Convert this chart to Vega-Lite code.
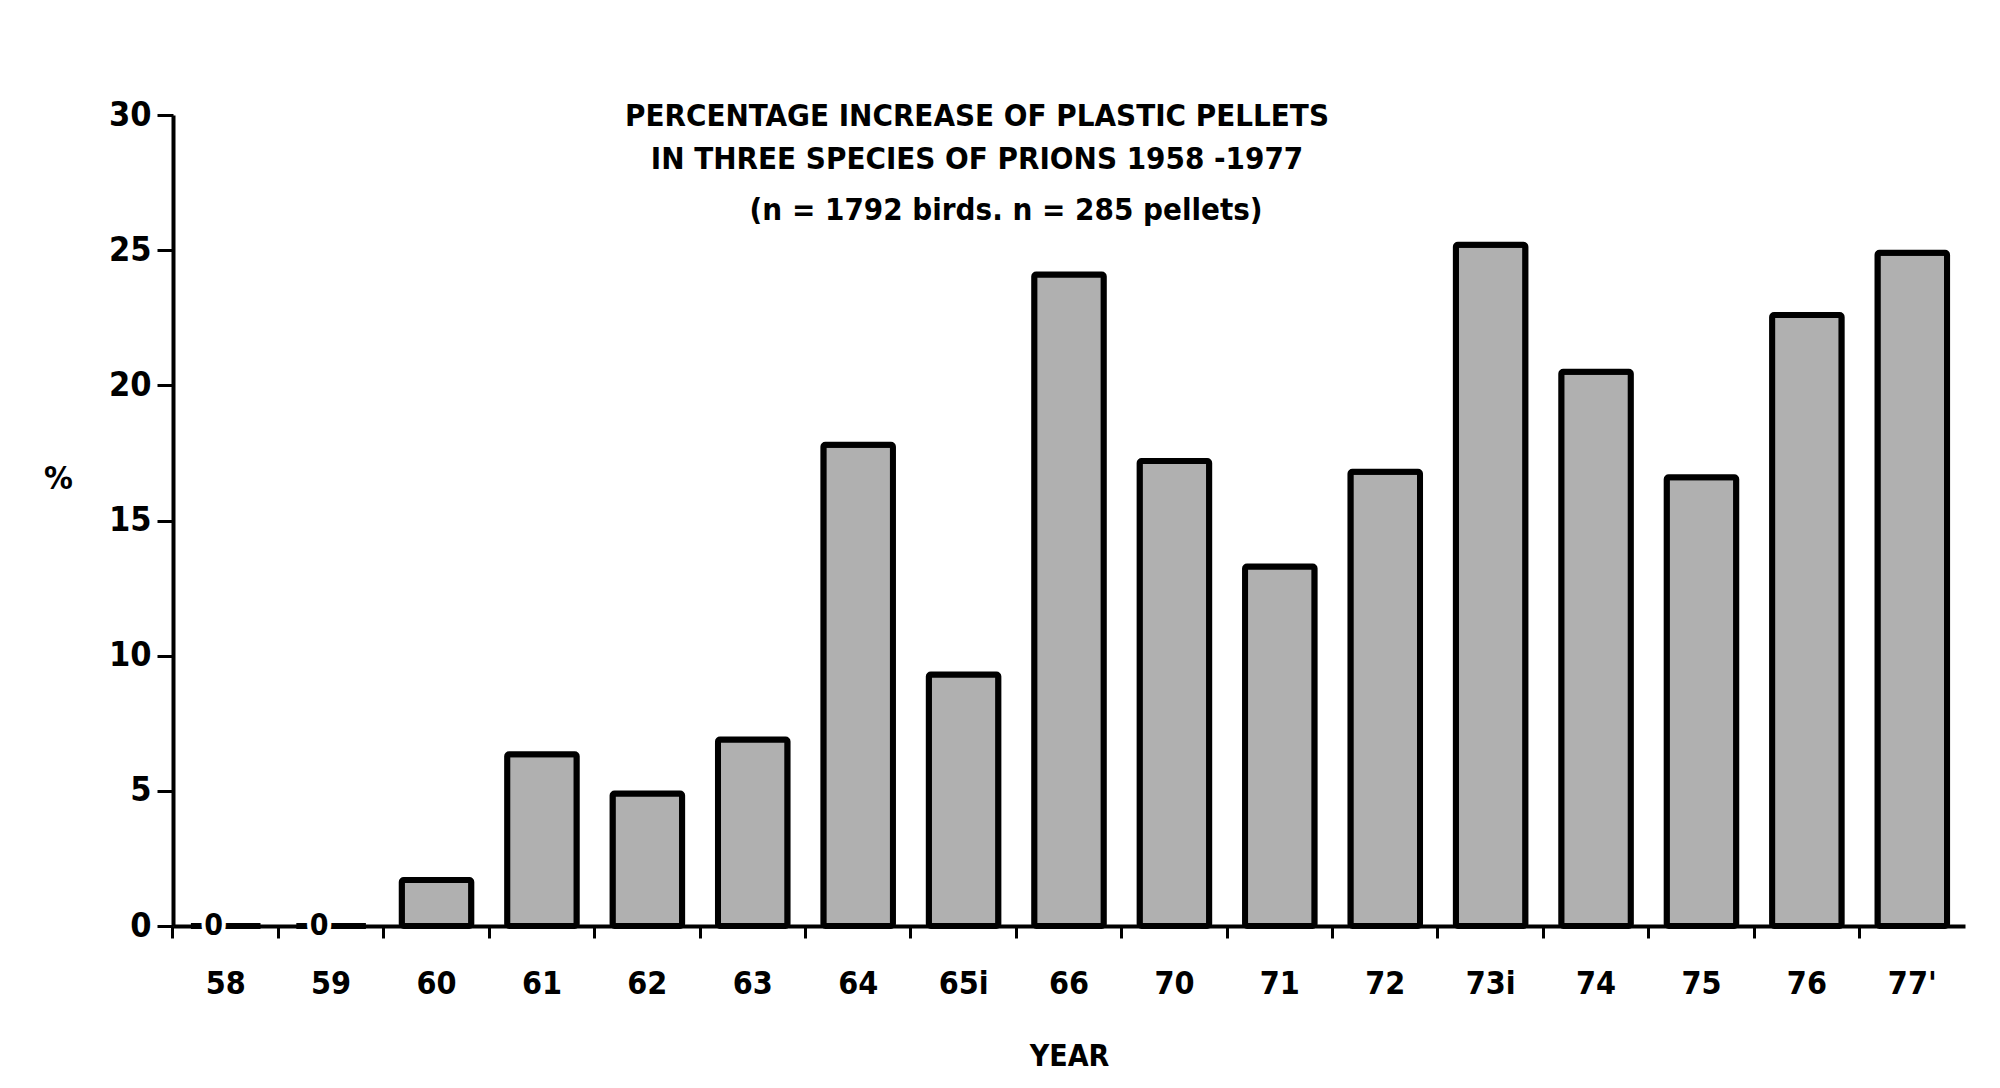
{
  "$schema": "https://vega.github.io/schema/vega-lite/v6.json",
  "description": "Percentage increase of plastic pellets in three species of prions 1958-1977",
  "autosize": {"type": "none"},
  "width": 1792,
  "height": 811,
  "padding": {"left": 173, "top": 115, "right": 35, "bottom": 162},
  "background": "white",
  "title": {
    "text": ["PERCENTAGE INCREASE OF PLASTIC PELLETS", "IN THREE SPECIES OF PRIONS 1958 -1977"],
    "subtitle": "\u200b\u00a0\u00a0\u00a0\u00a0\u00a0\u00a0(n = 1792 birds. n = 285 pellets)",
    "anchor": "middle",
    "orient": "top",
    "baseline": "top",
    "offset": -129,
    "dx": -92,
    "font": "DejaVu Sans Condensed",
    "fontSize": 31,
    "fontWeight": "bold",
    "lineHeight": 43,
    "color": "black",
    "subtitleFont": "DejaVu Sans Condensed",
    "subtitleFontSize": 31,
    "subtitleFontWeight": "bold",
    "subtitleColor": "black",
    "subtitlePadding": 20
  },
  "data": {
    "values": [
      {"year": "58", "pct": 0},
      {"year": "59", "pct": 0},
      {"year": "60", "pct": 1.7},
      {"year": "61", "pct": 6.35},
      {"year": "62", "pct": 4.9},
      {"year": "63", "pct": 6.9},
      {"year": "64", "pct": 17.8},
      {"year": "65i", "pct": 9.3},
      {"year": "66", "pct": 24.1},
      {"year": "70", "pct": 17.2},
      {"year": "71", "pct": 13.3},
      {"year": "72", "pct": 16.8},
      {"year": "73i", "pct": 25.2},
      {"year": "74", "pct": 20.5},
      {"year": "75", "pct": 16.6},
      {"year": "76", "pct": 22.6},
      {"year": "77'", "pct": 24.9}
    ]
  },
  "encoding": {
    "x": {
      "field": "year",
      "type": "nominal",
      "sort": null,
      "scale": {"paddingInner": 0.34, "paddingOuter": 0.17},
      "axis": {
        "title": "YEAR",
        "titleFont": "DejaVu Sans Condensed",
        "titleFontSize": 30,
        "titleFontWeight": "bold",
        "titleColor": "black",
        "titlePadding": 42,
        "labelFont": "DejaVu Sans Condensed",
        "labelFontSize": 32,
        "labelFontWeight": "bold",
        "labelColor": "black",
        "labelPadding": 30,
        "labelAngle": 0,
        "domainColor": "black",
        "domainWidth": 4,
        "tickColor": "black",
        "tickWidth": 3,
        "tickSize": 12,
        "bandPosition": -0.258,
        "grid": false
      }
    },
    "y": {
      "field": "pct",
      "type": "quantitative",
      "scale": {"domain": [0, 30]},
      "axis": {
        "title": "%",
        "titleAngle": 0,
        "titleFont": "DejaVu Sans Condensed",
        "titleFontSize": 32,
        "titleFontWeight": "bold",
        "titleColor": "black",
        "titleX": -115,
        "titleY": 380,
        "values": [0, 5, 10, 15, 20, 25, 30],
        "labelFont": "DejaVu Sans Condensed",
        "labelFontSize": 34,
        "labelFontWeight": "bold",
        "labelColor": "black",
        "labelPadding": 6,
        "domainColor": "black",
        "domainWidth": 4,
        "tickColor": "black",
        "tickWidth": 3,
        "tickSize": 16,
        "grid": false
      }
    }
  },
  "layer": [
    {
      "mark": {
        "type": "bar",
        "fill": "#b0b0b0",
        "stroke": "black",
        "strokeWidth": 6,
        "cornerRadius": 2
      }
    },
    {
      "transform": [{"filter": "datum.pct == 0"}],
      "mark": {
        "type": "text",
        "baseline": "middle",
        "align": "center",
        "dx": -12,
        "font": "DejaVu Sans Condensed",
        "fontSize": 30,
        "fontWeight": "bold",
        "stroke": "white",
        "strokeWidth": 8,
        "fill": "white"
      },
      "encoding": {"text": {"value": "0"}}
    },
    {
      "transform": [{"filter": "datum.pct == 0"}],
      "mark": {
        "type": "text",
        "baseline": "middle",
        "align": "center",
        "dx": -12,
        "font": "DejaVu Sans Condensed",
        "fontSize": 30,
        "fontWeight": "bold",
        "color": "black"
      },
      "encoding": {"text": {"value": "0"}}
    }
  ],
  "config": {"view": {"stroke": null}}
}
